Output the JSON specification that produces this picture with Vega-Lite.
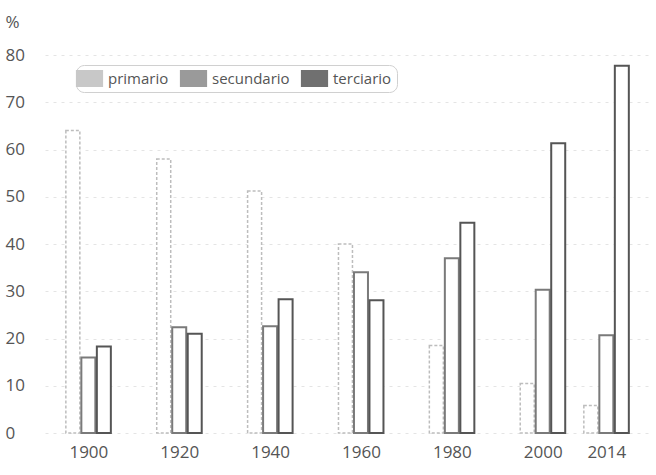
{
  "$schema": "https://vega.github.io/schema/vega-lite/v6.json",
  "width": 605,
  "height": 378,
  "autosize": {"type": "none"},
  "padding": {"left": 45, "top": 55, "right": 6, "bottom": 42},
  "background": "white",
  "config": {
    "view": {"stroke": null},
    "font": "Open Sans"
  },
  "data": {
    "values": [
      {"year": 1900, "sector": "primario", "value": 64},
      {"year": 1900, "sector": "secundario", "value": 16},
      {"year": 1900, "sector": "terciario", "value": 18.3},
      {"year": 1920, "sector": "primario", "value": 58},
      {"year": 1920, "sector": "secundario", "value": 22.4},
      {"year": 1920, "sector": "terciario", "value": 21},
      {"year": 1940, "sector": "primario", "value": 51.2},
      {"year": 1940, "sector": "secundario", "value": 22.6},
      {"year": 1940, "sector": "terciario", "value": 28.3},
      {"year": 1960, "sector": "primario", "value": 40},
      {"year": 1960, "sector": "secundario", "value": 34},
      {"year": 1960, "sector": "terciario", "value": 28.1},
      {"year": 1980, "sector": "primario", "value": 18.5},
      {"year": 1980, "sector": "secundario", "value": 37},
      {"year": 1980, "sector": "terciario", "value": 44.5},
      {"year": 2000, "sector": "primario", "value": 10.5},
      {"year": 2000, "sector": "secundario", "value": 30.3},
      {"year": 2000, "sector": "terciario", "value": 61.3},
      {"year": 2014, "sector": "primario", "value": 5.8},
      {"year": 2014, "sector": "secundario", "value": 20.7},
      {"year": 2014, "sector": "terciario", "value": 77.7}
    ]
  },
  "encoding": {
    "x": {
      "field": "year",
      "type": "quantitative",
      "scale": {"domain": [1891.56, 2022.51], "nice": false, "zero": false},
      "axis": {
        "values": [1900, 1920, 1940, 1960, 1980, 2000, 2014],
        "format": "d",
        "title": null,
        "grid": false,
        "domain": false,
        "ticks": false,
        "labelPadding": 11,
        "labelFontSize": 17,
        "labelColor": "#555",
        "labelFont": "Open Sans"
      }
    },
    "y": {
      "field": "value",
      "type": "quantitative",
      "scale": {"domain": [0, 80], "nice": false},
      "axis": {
        "values": [0, 10, 20, 30, 40, 50, 60, 70, 80],
        "title": "%",
        "titleAngle": 0,
        "titleAlign": "left",
        "titleBaseline": "middle",
        "titleX": -40,
        "titleY": -33,
        "titleFontSize": 17,
        "titleFontWeight": "normal",
        "titleColor": "#555",
        "titleFont": "Open Sans",
        "grid": true,
        "gridColor": "#e4e4e4",
        "gridDash": [3, 5],
        "gridWidth": 1,
        "domain": false,
        "ticks": false,
        "labelAlign": "left",
        "labelPadding": 40,
        "labelFontSize": 17,
        "labelColor": "#555",
        "labelFont": "Open Sans"
      }
    }
  },
  "layer": [
    {
      "mark": {"type": "point", "filled": true, "opacity": 0},
      "encoding": {
        "y": {"datum": 0},
        "color": {
          "field": "sector",
          "type": "nominal",
          "scale": {"domain": ["primario", "secundario", "terciario"], "range": ["#c8c8c8", "#9a9a9a", "#707070"]},
          "legend": {
            "title": null,
            "orient": "none",
            "legendX": 31,
            "legendY": 10,
            "direction": "horizontal",
            "symbolType": "M-1.6,-1L1.6,-1L1.6,1L-1.6,1Z",
            "symbolSize": 289,
            "symbolOpacity": 1,
            "symbolStrokeWidth": 0,
            "labelFontSize": 15,
            "labelColor": "#555",
            "labelFont": "Open Sans",
            "labelOffset": 10,
            "columnPadding": 10,
            "padding": 5,
            "strokeColor": "#d0d0d0",
            "cornerRadius": 8
          }
        }
      }
    },
    {
      "transform": [{"filter": "datum.sector === 'primario'"}],
      "mark": {"type": "bar", "width": 14, "xOffset": -15.5, "fill": "white", "stroke": "#bdbdbd", "strokeWidth": 1.5, "strokeDash": [3, 2]}
    },
    {
      "transform": [{"filter": "datum.sector === 'secundario'"}],
      "mark": {"type": "bar", "width": 14, "xOffset": 0, "fill": "white", "stroke": "#7a7a7a", "strokeWidth": 2}
    },
    {
      "transform": [{"filter": "datum.sector === 'terciario'"}],
      "mark": {"type": "bar", "width": 14, "xOffset": 15.5, "fill": "white", "stroke": "#555555", "strokeWidth": 2}
    }
  ]
}
